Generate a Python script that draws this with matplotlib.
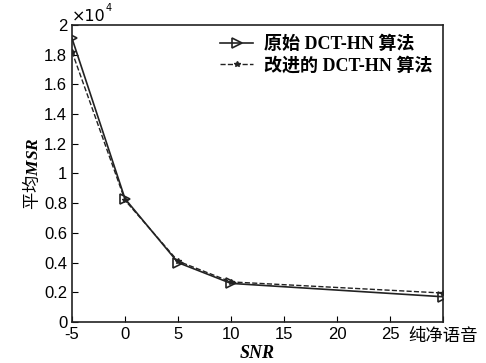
import numpy as np
import matplotlib
matplotlib.use("Agg")
from matplotlib import pyplot as plt
from matplotlib.ticker import FuncFormatter

# data (MSR values, real units)
snr = [-5, 0, 5, 10, 30]
msr_orig = [19100, 8300, 4000, 2600, 1700]
msr_impr = [18200, 8200, 4100, 2700, 1950]
xticks = [-5, 0, 5, 10, 15, 20, 25, 30]
xticklabels = ['-5', '0', '5', '10', '15', '20', '25', '纯净语音']
yticks = np.arange(0, 2.01e4, 0.2e4)

cjk = ['Liberation Serif', 'Noto Sans CJK SC']
plt.rcParams['font.family'] = ['Liberation Sans', 'Noto Sans CJK SC']
plt.rcParams['mathtext.fontset'] = 'custom'
plt.rcParams['mathtext.rm'] = 'Noto Sans CJK SC'
plt.rcParams['mathtext.it'] = 'Liberation Serif:italic:bold'

fig = plt.figure(figsize=(4.86, 3.63), dpi=100)
ax = fig.add_axes([72 / 486, 1 - 322 / 363, (443 - 72) / 486, (322 - 25) / 363])

ax.plot(snr, msr_orig, '-', color='#222222', lw=1.2, marker='>',
        markersize=7, markerfacecolor='none', markeredgewidth=1.2,
        label='原始 DCT-HN 算法')
ax.plot(snr, msr_impr, '--', color='#222222', lw=1.0, marker='*',
        markersize=4, label='改进的 DCT-HN 算法')

ax.set_xlim(-5, 30)
ax.set_ylim(0, 2e4)
ax.set_xticks(xticks)
ax.set_xticklabels(xticklabels)
ax.set_yticks(yticks)
ax.yaxis.set_major_formatter(FuncFormatter(lambda v, p: '{:g}'.format(round(v / 1e4, 1))))
ax.tick_params(direction='in', labelsize=12, length=4, top=False, right=False)
for lbl in ax.get_xticklabels():
    if lbl.get_text() == '纯净语音':
        lbl.set_family(['Noto Sans CJK SC'])
        lbl.set_fontsize(12.5)

ax.text(0.0, 1.005, '×10', transform=ax.transAxes, fontsize=11.5,
        ha='left', va='bottom', family=['DejaVu Sans'])
ax.text(0.09, 1.04, '4', transform=ax.transAxes, fontsize=7,
        ha='left', va='bottom', family=['DejaVu Sans'])

ax.set_xlabel('SNR', fontsize=13, family=cjk, style='italic', weight='bold',
              labelpad=0)
ax.set_ylabel('$\\mathrm{平均}\\mathit{MSR}$', fontsize=12.5, labelpad=2)

leg = ax.legend(loc='upper right', frameon=False, prop={'family': cjk,
                'size': 13, 'weight': 'bold'},
                handlelength=1.8, borderaxespad=0.2, labelspacing=0.2,
                handletextpad=0.6)

for s in ax.spines.values():
    s.set_linewidth(1.2)
    s.set_color('#222222')

fig.savefig('out.png', dpi=100)
